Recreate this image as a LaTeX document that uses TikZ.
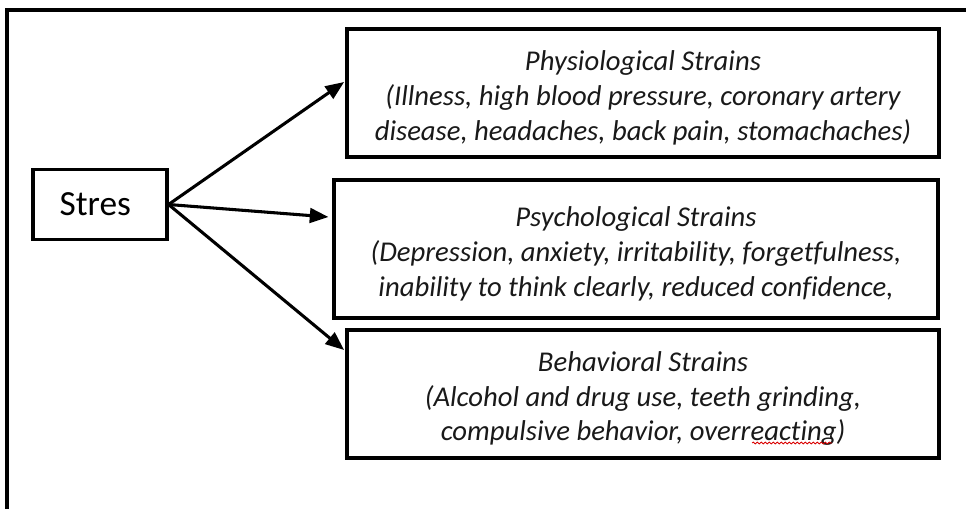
\documentclass[tikz,border=0pt]{standalone}
\usepackage{fontspec}
\setmainfont[Ligatures=NoCommon]{Carlito}
\usetikzlibrary{arrows.meta,decorations.pathmorphing}
\newcommand{\firstlinestrut}{\rule{0pt}{22pt}}
\begin{document}
\begin{tikzpicture}[x=0.75pt,y=-0.75pt,
  box/.style={draw,line width=2.3pt,inner sep=0pt,anchor=center},
  strain/.style={box,font=\fontsize{21.5}{26}\selectfont\itshape,align=center,text=black!90},
  arr/.style={line width=2.3pt,-{Triangle[length=14pt,width=11pt]}},
  spellwave/.style={draw=red!85!black,line width=0.6pt,decorate,decoration={snake,segment length=3pt,amplitude=0.7pt}}]
\useasboundingbox (0,0) rectangle (966,509);
% outer frame (cropped at right and bottom)
\draw[line width=2.3pt] (7,520) -- (7,10) -- (980,10);
\node[box,minimum width=100.5pt,minimum height=53pt,font=\fontsize{26.5}{30}\selectfont] (stres) at (100,204.5) {\kern-7pt Stres};
\node[strain,minimum width=444pt,minimum height=96pt] (phys) at (643,93) {\firstlinestrut Physiological Strains\\(Illness, high blood pressure, coronary artery\\disease, headaches, back pain, stomachaches)};
\node[strain,minimum width=453pt,minimum height=103.5pt] (psych) at (636,249) {\firstlinestrut Psychological Strains\\(Depression, anxiety, irritability, forgetfulness,\\inability to think clearly, reduced confidence,};
\node[strain,minimum width=444pt,minimum height=96pt] (behav) at (643,394) {\firstlinestrut Behavioral Strains\\(Alcohol and drug use, teeth grinding,\\compulsive behavior, overreacting)};
\draw[arr] (stres.east) -- ([yshift=8.25pt,xshift=-1pt]phys.west);
\draw[arr] (stres.east) -- ([yshift=24pt,xshift=-3pt]psych.west);
\draw[arr] (stres.east) -- ([yshift=33pt,xshift=-1pt]behav.west);
% spell-check underline under "overreacting"
\coordinate (wavestart) at (752,443);
\coordinate (waveend) at (832,443);
\draw[spellwave] (wavestart) -- (waveend);
\end{tikzpicture}
\end{document}
